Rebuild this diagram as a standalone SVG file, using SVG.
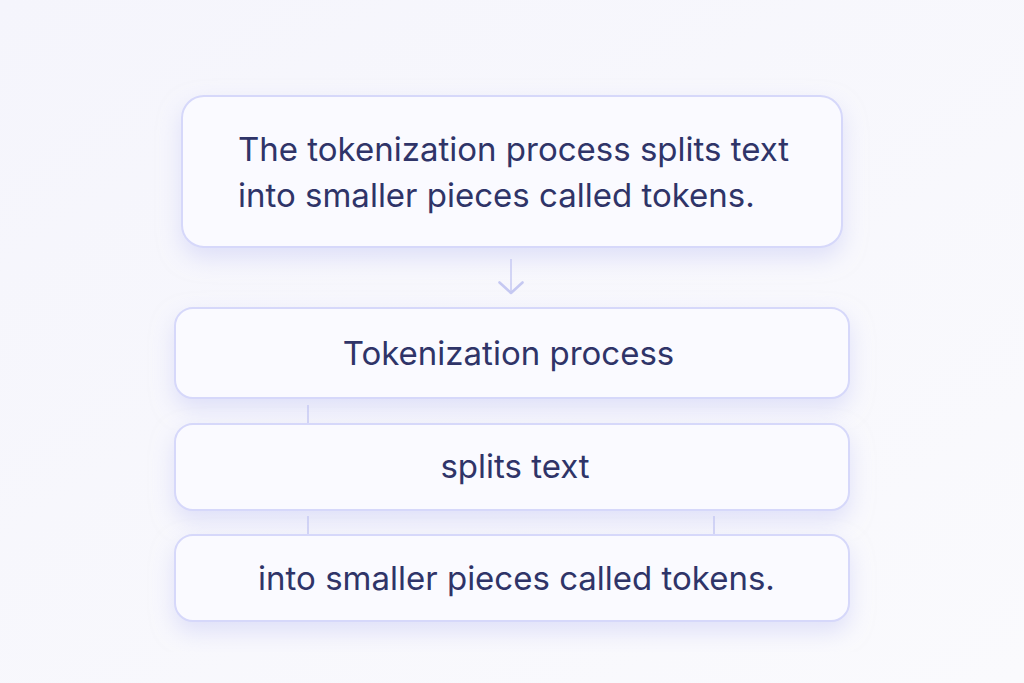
<svg xmlns="http://www.w3.org/2000/svg" width="1024" height="683" viewBox="0 0 1024 683">
<defs>
<linearGradient id="bg" x1="0" y1="0" x2="1" y2="1">
<stop offset="0" stop-color="#f5f5fc"/>
<stop offset="1" stop-color="#fafafd"/>
</linearGradient>
<filter id="sh" x="-10%" y="-25%" width="120%" height="160%">
<feDropShadow dx="0" dy="10" stdDeviation="11" flood-color="#c6c8f4" flood-opacity="0.5"/>
</filter>
<marker id="ah" viewBox="0 0 14 26" refX="12" refY="13" markerWidth="14" markerHeight="26" markerUnits="userSpaceOnUse" orient="auto">
<path d="M1.5 1.5 L12 13 L1.5 24.5" fill="none" stroke="#c6c9f2" stroke-width="2.6" stroke-linecap="round" stroke-linejoin="round"/>
</marker>
</defs>
<style>
.box{fill:#fafaff;stroke:#d6d8fa;stroke-width:2;filter:url(#sh)}
.t{font-family:Inter,"Noto Sans",sans-serif;fill:#2f3468;font-size:33px}
.c{stroke:#d3d5f5;stroke-width:2;fill:none}
</style>
<rect width="1024" height="683" fill="url(#bg)"/>
<g id="connectors">
<line class="c" x1="511" y1="259" x2="511" y2="293" stroke="#c6c9f2" stroke-width="2.6" marker-end="url(#ah)"/>
<line class="c" x1="308" y1="405" x2="308" y2="423"/>
<line class="c" x1="308" y1="516" x2="308" y2="534"/>
<line class="c" x1="714" y1="516" x2="714" y2="534"/>
</g>
<g id="node-summary">
<rect class="box" x="182" y="96" width="660" height="151" rx="22"/>
<text class="t" x="238" y="161">The tokenization process splits text</text>
<text class="t" x="238" y="207">into smaller pieces called tokens.</text>
</g>
<g id="node-tokenization">
<rect class="box" x="175" y="308" width="674" height="90" rx="18"/>
<text class="t" x="508.5" y="365" text-anchor="middle">Tokenization process</text>
</g>
<g id="node-splits">
<rect class="box" x="175" y="424" width="674" height="86" rx="18"/>
<text class="t" x="515" y="478" text-anchor="middle">splits text</text>
</g>
<g id="node-pieces">
<rect class="box" x="175" y="535" width="674" height="86" rx="18"/>
<text class="t" x="516.5" y="590" text-anchor="middle">into smaller pieces called tokens.</text>
</g>
</svg>
